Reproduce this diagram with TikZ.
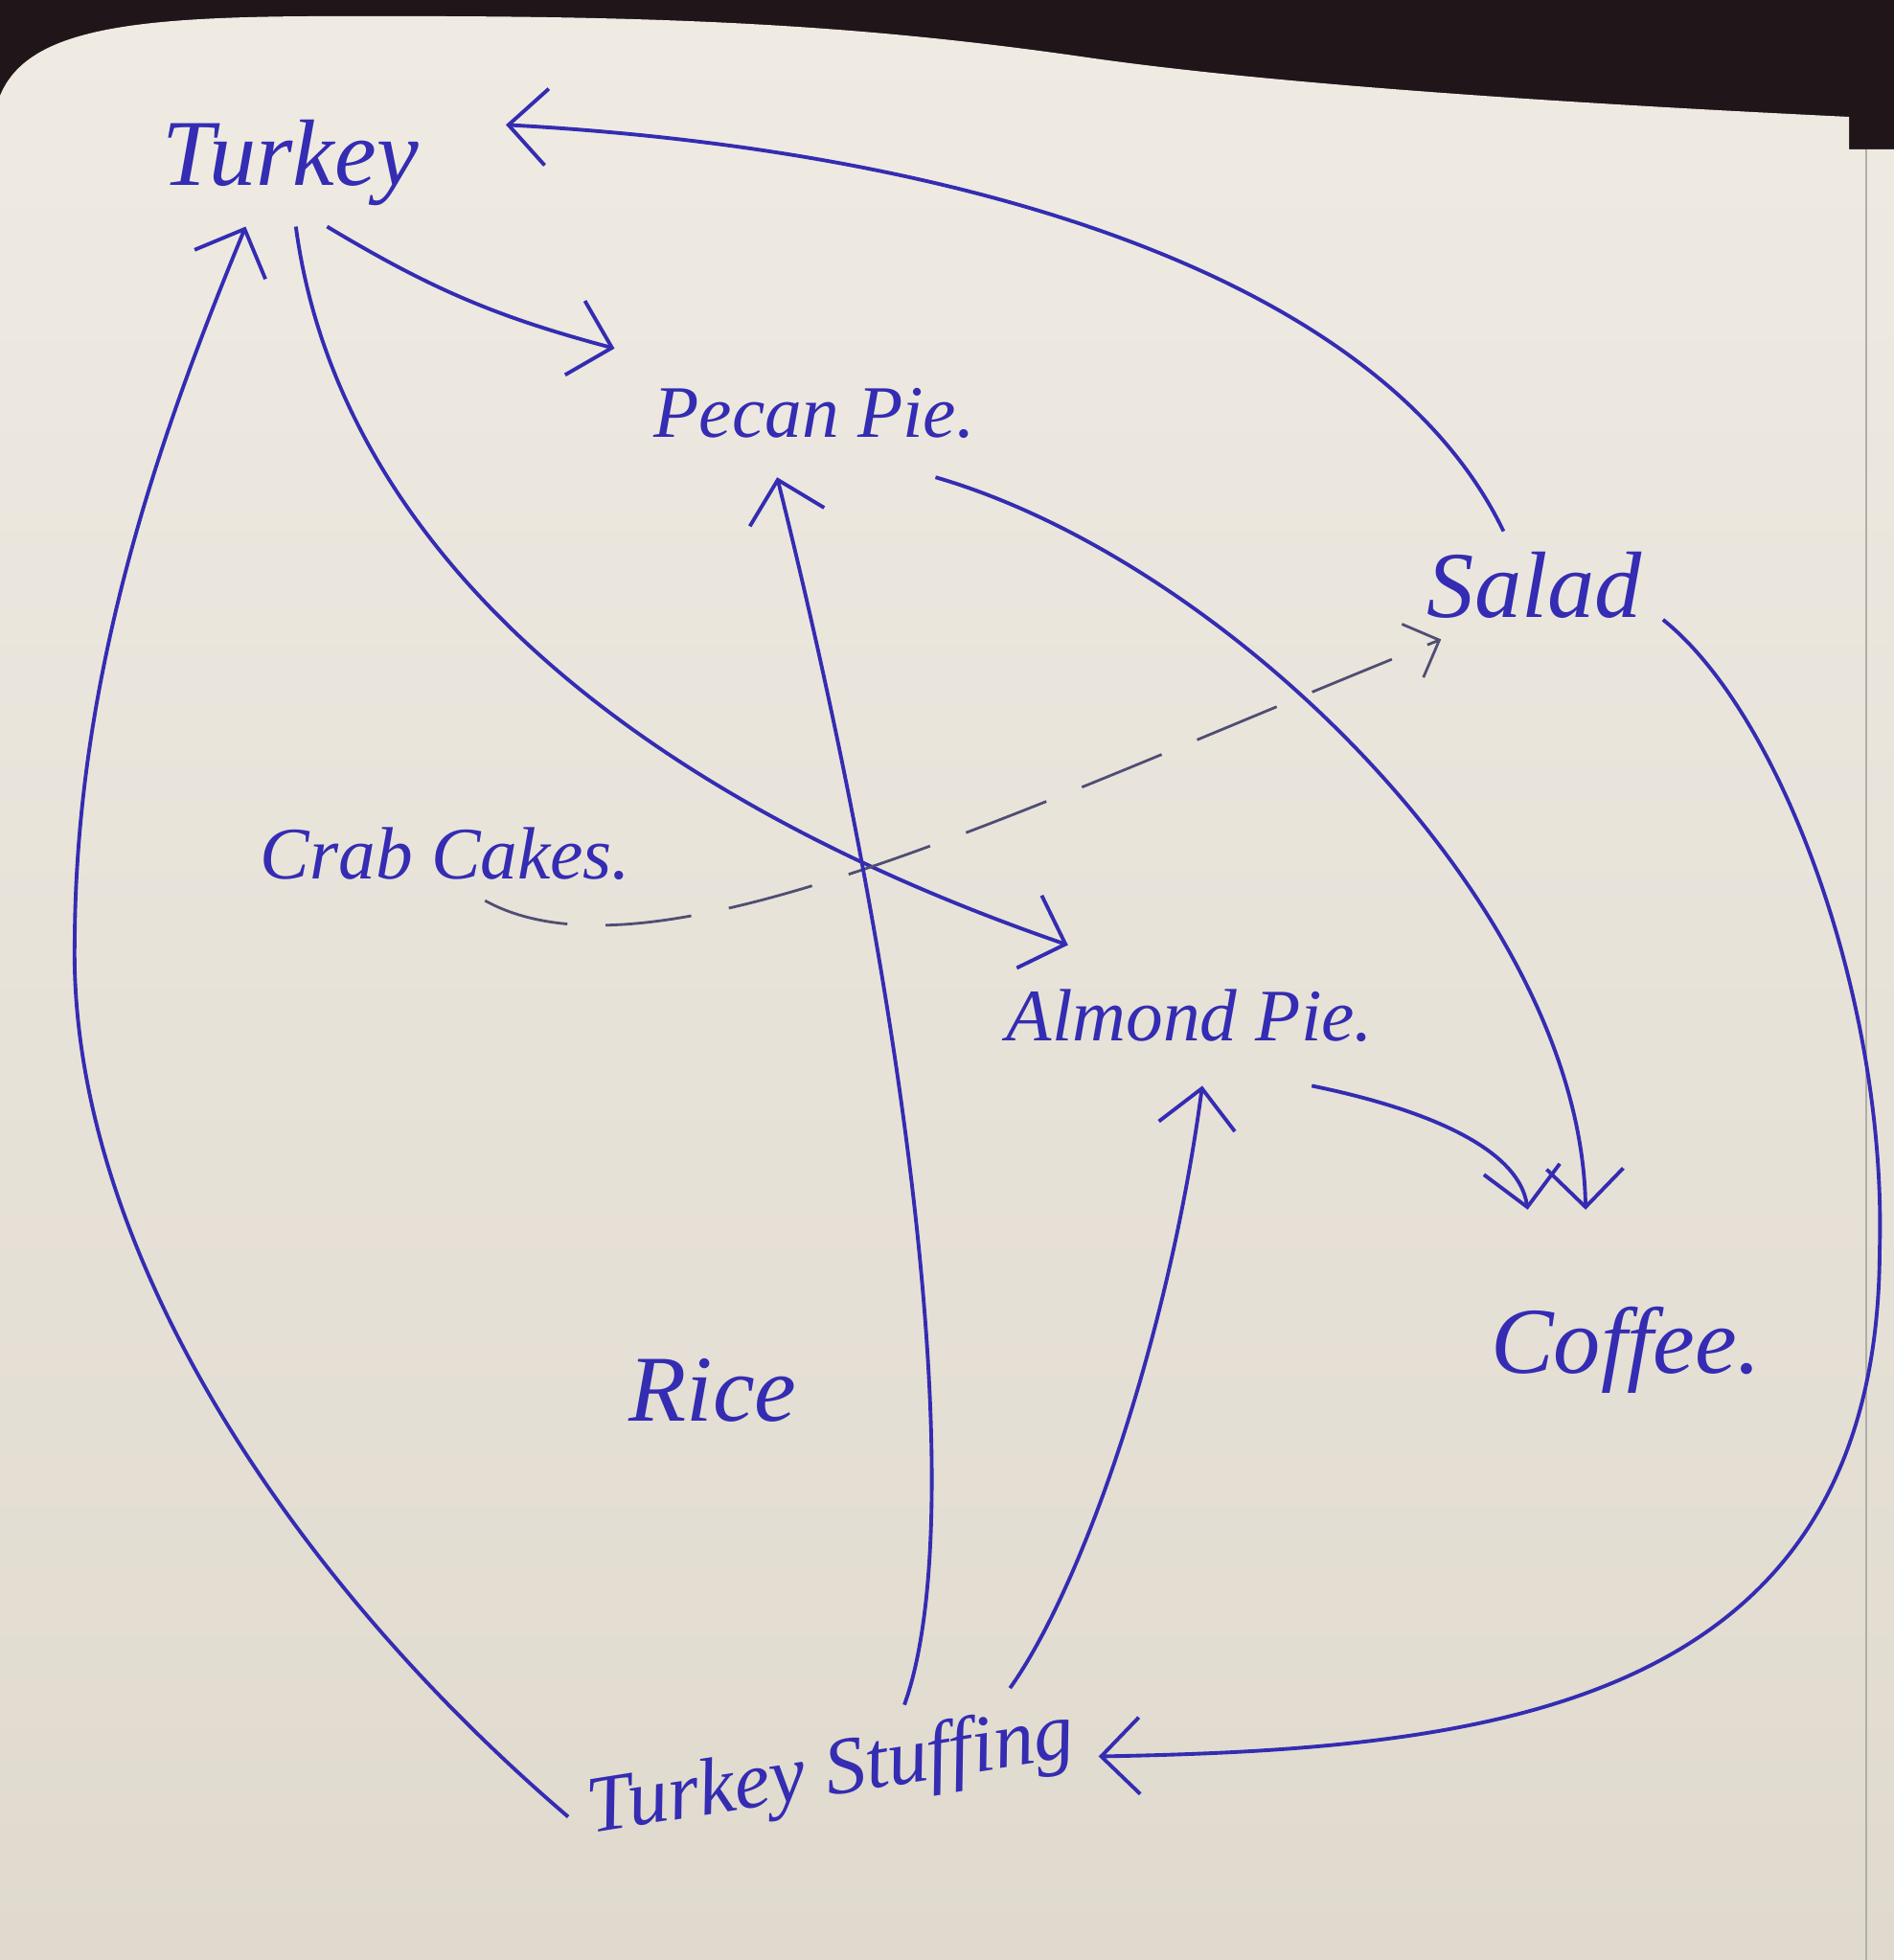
\documentclass[tikz,border=0pt]{standalone}
\usepackage{fontspec}
\usepackage{xcolor}
\usepackage{tikz}
\usetikzlibrary{arrows.meta}
\newfontfamily\handfont{Liberation Serif}
\definecolor{ink}{RGB}{52,44,178}
\definecolor{pencil}{RGB}{80,78,115}
\definecolor{desk}{RGB}{32,22,26}
\definecolor{papertop}{RGB}{239,235,227}
\definecolor{paperbot}{RGB}{224,218,206}

\begin{document}
\begin{tikzpicture}[
    dish/.style={text=ink, inner sep=6pt, font=\handfont\itshape\fontsize{28}{32}\selectfont},
    smalldish/.style={dish, font=\handfont\itshape\fontsize{22}{26}\selectfont},
    arrow/.style={draw=ink, line width=1.1pt, -{Straight Barb[length=4mm, width=8mm]}},
    maybe/.style={draw=pencil, line width=0.8pt, dash pattern=on 9mm off 4mm, -{Straight Barb[length=3mm, width=6mm]}}
]
    \useasboundingbox (0,0) rectangle (19.77,20.46);
    \fill [desk] (0,0) rectangle (19.77,20.46);
    \shade [top color=papertop, bottom color=paperbot] (0,0) -- (0,19.46) .. controls (0.3,20.2) and (1.5,20.3) .. (3.78,20.29) .. controls (7,20.3) and (9,20.2) .. (11.35,19.86) .. controls (13.5,19.55) and (17,19.35) .. (19.30,19.24) -- (19.30,18.9) -- (19.77,18.9) -- (19.77,0) -- cycle;
    \draw [paperbot!80!black, line width=0.6pt] (19.48,18.9) -- (19.48,0);

    \node [dish, outer xsep=0.7cm] (turkey) at (3.03,18.76) {Turkey};
    \node [smalldish, outer sep=0.2cm] (pecan) at (8.5,16.15) {Pecan Pie.};
    \node [dish] (salad) at (16.02,14.35) {Salad};
    \node [smalldish] (crab) at (4.65,11.55) {Crab Cakes.};
    \node [smalldish, outer ysep=0.25cm] (almond) at (12.42,9.86) {Almond Pie.};
    \node [dish, outer ysep=0.8cm] (coffee) at (16.97,6.37) {Coffee.};
    \node [dish] (rice) at (7.44,5.95) {Rice};
    \node [dish, font=\handfont\itshape\fontsize{24}{28}\selectfont, rotate=9] (stuffing) at (8.68,1.93) {Turkey Stuffing};

    \draw [arrow] (turkey.-60) to[bend right=8] (pecan.north west);
    \draw [arrow] (turkey.-85) .. controls (3.5,15.0) and (6.2,12.3) .. (almond.150);
    \draw [arrow] (salad.120) .. controls (14.4,17.6) and (10.0,18.9) .. (turkey.10);
    \draw [arrow] (pecan.-28) .. controls (12.8,14.6) and (16.5,11.0) .. (coffee.106);
    \draw [arrow] (almond.-30) .. controls (14.8,8.9) and (15.85,8.5) .. (coffee.125);
    \draw [maybe] (crab.-50) .. controls (6.8,10.1) and (10.6,12.0) .. (salad.-150);
    \draw [arrow] (stuffing.35) .. controls (10.1,4.5) and (9.6,9.5) .. (pecan.-120);
    \draw [arrow] (stuffing.17) .. controls (11.3,3.9) and (12.2,6.5) .. (almond.-80);
    \draw [arrow] (salad.-15) .. controls (18.6,13.0) and (19.7,10.0) .. (19.62,7.4) .. controls (19.6,2.6) and (15.5,2.2) .. (stuffing.-5);
    \draw [arrow] (stuffing.west) .. controls (3.0,4.0) and (0.7,7.5) .. (0.78,10.67) .. controls (0.8,13.5) and (1.7,16.0) .. (turkey.-125);
\end{tikzpicture}
\end{document}
